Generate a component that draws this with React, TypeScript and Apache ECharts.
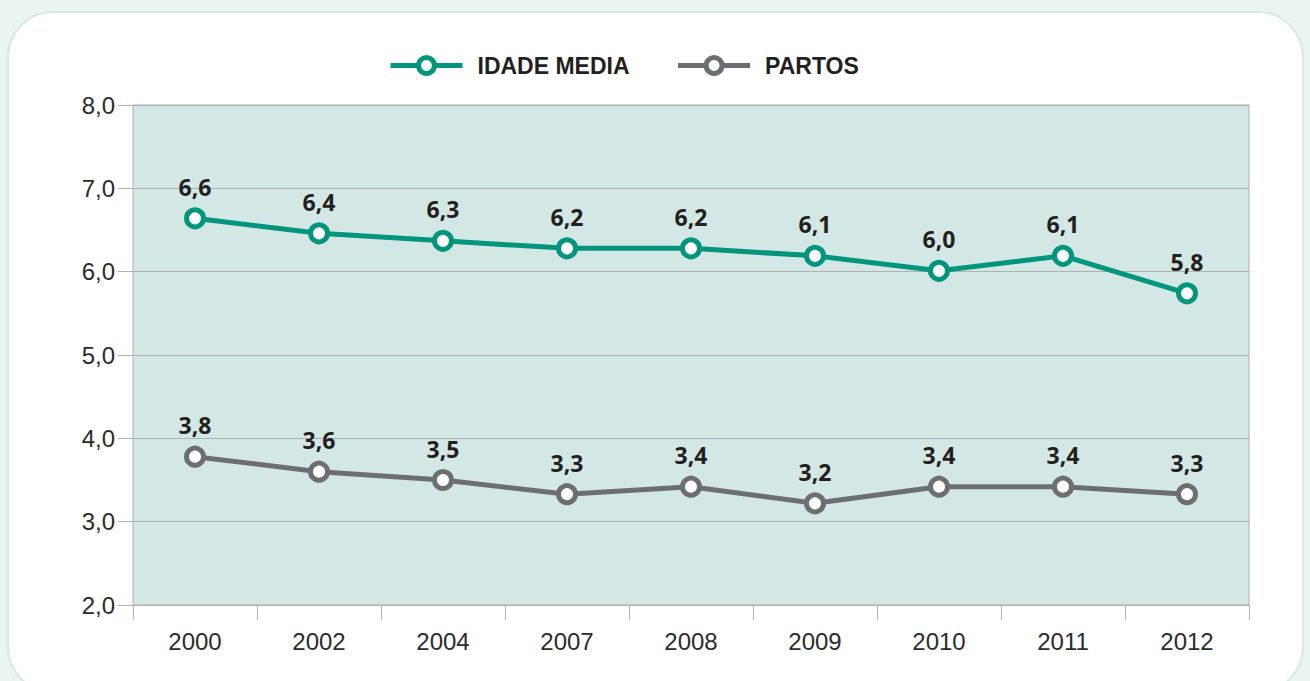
import React, { useEffect, useRef } from "react";
import * as echarts from "echarts";

const categories = ["2000", "2002", "2004", "2007", "2008", "2009", "2010", "2011", "2012"];
const idadeMedia = [6.64, 6.46, 6.37, 6.28, 6.28, 6.19, 6.01, 6.19, 5.74];
const idadeMediaLabels = ["6,6", "6,4", "6,3", "6,2", "6,2", "6,1", "6,0", "6,1", "5,8"];
const partos = [3.78, 3.6, 3.5, 3.33, 3.42, 3.22, 3.42, 3.42, 3.33];
const partosLabels = ["3,8", "3,6", "3,5", "3,3", "3,4", "3,2", "3,4", "3,4", "3,3"];

const TEAL = "#00957c";
const GRAY = "#6d6e71";

export default function App() {
  const ref = useRef<HTMLDivElement>(null);
  useEffect(() => {
    if (!ref.current) return;
    const chart = echarts.init(ref.current, null, { renderer: "svg" });
    const labelStyle = (labels: string[]) => ({
      show: true,
      position: "top" as const,
      distance: 9,
      fontSize: 23,
      fontWeight: "bold" as const,
      color: "#231f20",
      fontFamily: "Open Sans, sans-serif",
      formatter: (p: any) => labels[p.dataIndex],
    });
    chart.setOption({
      animation: false,
      graphic: [
        {
          type: "rect",
          shape: { x: 8, y: 12, width: 1295, height: 680, r: 45 },
          style: { fill: "#ffffff", stroke: "#d6e9e5", lineWidth: 2 },
          z: -10,
          silent: true,
        },
      ],
      legend: {
        top: 54,
        left: 388,
        padding: 0,
        itemWidth: 72,
        itemHeight: 20,
        itemGap: 46,
        lineStyle: { width: 5 },
        itemStyle: { borderWidth: 5, color: "#ffffff" },
        textStyle: {
          fontSize: 23,
          fontWeight: "bold",
          color: "#231f20",
          fontFamily: "Liberation Sans Narrow, Arial Narrow, sans-serif",
          padding: [0, 0, 0, 10],
        },
        data: ["IDADE MEDIA", "PARTOS"],
      },
      grid: {
        left: 133,
        right: 61,
        top: 105,
        bottom: 76,
        show: true,
        backgroundColor: "#d3e8e5",
        borderColor: "#b0b0b0",
        borderWidth: 1,
      },
      xAxis: {
        type: "category",
        data: categories,
        boundaryGap: true,
        axisLine: { lineStyle: { color: "#b0b0b0", width: 1 } },
        axisTick: { show: true, length: 15, lineStyle: { color: "#b0b0b0" } },
        axisLabel: {
          fontSize: 24,
          color: "#2b2b2b",
          margin: 24,
          fontFamily: "Liberation Sans, Arial, sans-serif",
        },
      },
      yAxis: {
        type: "value",
        min: 2,
        max: 8,
        interval: 1,
        axisLine: { show: false },
        axisTick: { show: true, length: 15, lineStyle: { color: "#b0b0b0" } },
        splitLine: { lineStyle: { color: "#b0b0b0", width: 1 } },
        axisLabel: {
          fontSize: 24,
          color: "#2b2b2b",
          margin: 18,
          fontFamily: "Liberation Sans, Arial, sans-serif",
          formatter: (v: number) => v.toFixed(1).replace(".", ","),
        },
      },
      series: [
        {
          name: "IDADE MEDIA",
          type: "line",
          data: idadeMedia,
          symbol: "circle",
          symbolSize: 17,
          lineStyle: { color: TEAL, width: 5 },
          itemStyle: { color: "#ffffff", borderColor: TEAL, borderWidth: 5 },
          label: labelStyle(idadeMediaLabels),
          z: 3,
        },
        {
          name: "PARTOS",
          type: "line",
          data: partos,
          symbol: "circle",
          symbolSize: 17,
          lineStyle: { color: GRAY, width: 5 },
          itemStyle: { color: "#ffffff", borderColor: GRAY, borderWidth: 5 },
          label: labelStyle(partosLabels),
          z: 3,
        },
      ],
    });
    return () => chart.dispose();
  }, []);
  return (
    <div style={{ position: "absolute", left: 0, top: 0, width: 1310, height: 681, background: "#eaf4f2", overflow: "hidden" }}>
      <div ref={ref} style={{ width: 1310, height: 681 }} />
    </div>
  );
}
